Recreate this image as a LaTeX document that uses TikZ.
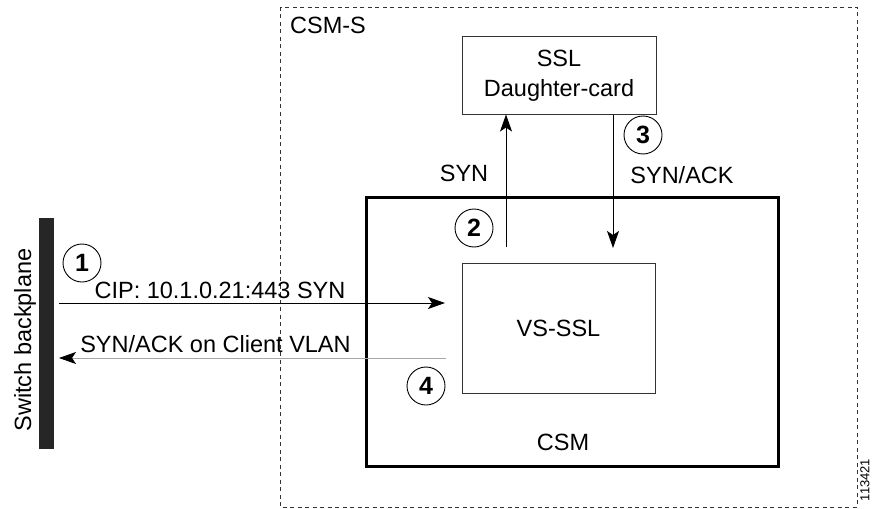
\documentclass[tikz,border=0pt]{standalone}
\usepackage{fontspec}
\setmainfont{Liberation Sans}
\usepackage{tikz}
\usetikzlibrary{arrows.meta}
\usetikzlibrary{calc}

\begin{document}
\begin{tikzpicture}[x=1pt, y=-1pt,
        lbl/.style={font=\fontsize{23.5}{28}\selectfont, inner sep=0pt},
        box/.style={draw=black!80, line width=1pt, inner sep=0pt},
        num/.style={draw, circle, line width=0.9pt, minimum size=38pt, inner sep=0pt, font=\fontsize{25}{25}\selectfont\bfseries},
        arr/.style={-{Stealth[length=17pt, width=12pt, inset=4pt]}, line width=1pt}]
        \useasboundingbox (0, 0) rectangle (874, 508);
        % outer module and card
        \draw[dashed, dash pattern=on 4pt off 3.5pt, black!80, line width=0.9pt] (280, 7) rectangle (857, 507);
        \node[lbl, anchor=west] (csms) at (290, 25) {CSM-S};
        \node[draw, line width=3pt, minimum width=412pt, minimum height=269pt] (csm) at (572, 331.5) {};
        \node[lbl] (csmlbl) at (563, 442) {CSM};
        \node[box, minimum width=193pt, minimum height=130pt] (vsssl) at (558.5, 328) {};
        \node[lbl] at (vsssl.center) {VS-SSL};
        \node[box, minimum width=194pt, minimum height=77pt] (ssl) at (559, 75.5) {};
        \node[lbl, align=center] at (ssl.center) {SSL\\[2pt]Daughter-card};
        % backplane
        \node[fill=black!85, minimum width=15pt, minimum height=231pt, inner sep=0pt] (bp) at (46.5, 333.5) {};
        \node[lbl, rotate=90] (bplbl) at (25, 340) {Switch backplane};
        % flows
        \coordinate (cipstart) at (59, 303);
        \coordinate (cipend) at (445, 303);
        \draw[arr] (cipstart) -- (cipend);
        \node[lbl] (ciplbl) at (220, 290) {CIP: 10.1.0.21:443 SYN};
        \coordinate (ackstart) at (446, 358);
        \coordinate (ackend) at (59, 358);
        \draw[arr, black!35, line width=0.8pt, -{Stealth[length=17pt, width=12pt, inset=4pt, black]}] (ackstart) -- (ackend);
        \node[lbl] (acklbl) at (215.5, 344) {SYN/ACK on Client VLAN};
        \coordinate (synstart) at (506, 247);
        \draw[arr] (synstart) -- (synstart |- ssl.south);
        \node[lbl] (synlbl) at (464, 173) {SYN};
        \coordinate (synackend) at (613, 248);
        \draw[arr] (synackend |- ssl.south) -- (synackend);
        \node[lbl] (synacklbl) at (682, 175) {SYN/ACK};
        % step numbers
        \node[num] (n1) at (82, 263) {1};
        \node[num] (n2) at (474, 228) {2};
        \node[num] (n3) at (643, 135) {3};
        \node[num] (n4) at (426, 386) {4};
        \node[font=\fontsize{13}{13}\selectfont, rotate=90, inner sep=0pt] (figid) at (865, 480) {113421};
    \end{tikzpicture}
\end{document}
